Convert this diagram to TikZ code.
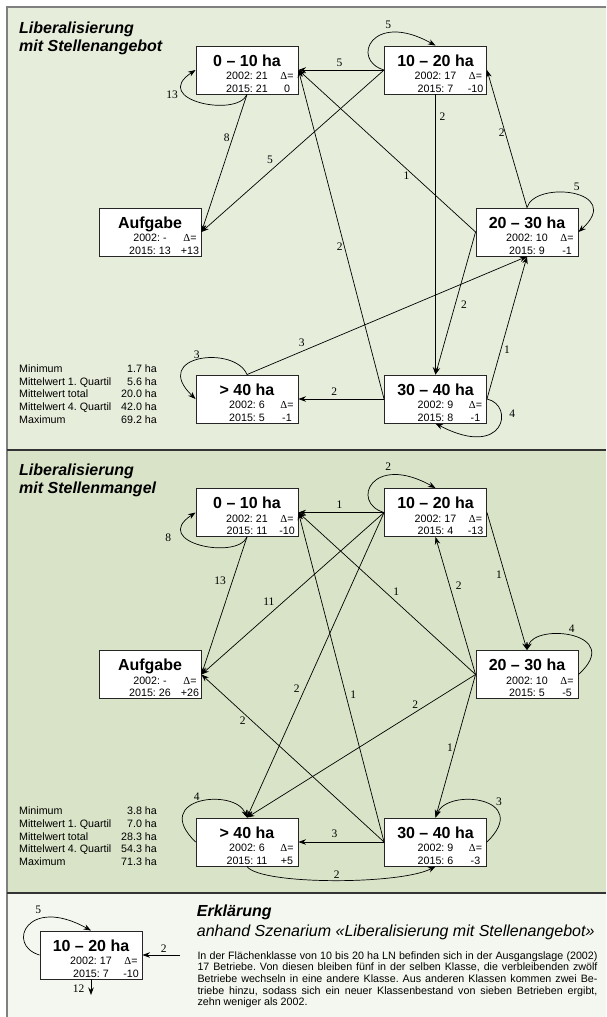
\documentclass[tikz,border=0pt]{standalone}
\usepackage{fontspec}
\setmainfont{Liberation Sans}
\newfontfamily\lserif{Liberation Serif}
\usetikzlibrary{arrows.meta,calc}
\frenchspacing
\definecolor{bgA}{HTML}{E6EDDB}
\definecolor{bgB}{HTML}{D9E3C7}
\definecolor{bgC}{HTML}{F4F7EF}
\definecolor{frameg}{HTML}{808080}
\definecolor{sepc}{HTML}{333333}
\newcommand\kls[7]{%
  \node[kbox] (#1) at (#2,#3) {};
  \node[ktitle] (#1-t) at (#2,#3-4) {#4};
  \node[ksmall] (#1-a) at (#2,#3+9.5) {2002: #5};
  \node[ksmall] (#1-b) at (#2,#3+22) {2015: #6};
  \node[ksmall] (#1-c) at (#2+40,#3+9.5) {{\lserif Δ}=};
  \node[ksmall] (#1-d) at (#2+40,#3+22) {#7};
}
\begin{document}
\begin{tikzpicture}[x=1pt,y=-1pt,
  kbox/.style={draw=black!85, line width=0.9pt, fill=white, minimum width=102pt, minimum height=48pt, inner sep=0pt},
  ktitle/.style={anchor=base, inner sep=0pt, font=\fontsize{16}{18}\selectfont\bfseries},
  ksmall/.style={anchor=base, inner sep=0pt, font=\fontsize{10.7}{12}\selectfont},
  lbl/.style={inner sep=0pt, font=\lserif\fontsize{11.5}{13}\selectfont},
  arr/.style={line width=0.7pt, -{Stealth[length=7.5pt,width=5.5pt]}},
  ptitle/.style={anchor=base west, inner sep=0pt, font=\fontsize{16}{18}\selectfont\bfseries\itshape},
  psub/.style={anchor=base west, inner sep=0pt, font=\fontsize{16}{18}\selectfont\itshape},
  stat/.style={anchor=base west, inner sep=0pt, font=\fontsize{10.7}{12.7}\selectfont},
  para/.style={anchor=base west, inner sep=0pt, font=\fontsize{10.7}{11.7}\selectfont},
]
\useasboundingbox (0,0) rectangle (606,1017);
\fill[white] (0,0) rectangle (606,1017);
\fill[bgA] (7,7) rectangle (606,450);
\fill[bgB] (7,450) rectangle (606,893);
\fill[bgC] (7,893) rectangle (606,1017);
\draw[frameg, line width=2pt] (7,1017) -- (7,7) -- (606,7);
\draw[sepc, line width=1.5pt] (7,450) -- (606,450);
\draw[sepc, line width=1.5pt] (7,893) -- (606,893);

% ---------- panel titles
\node[ptitle] (tA1) at (19,33.3) {Liberalisierung};
\node[ptitle] (tA2) at (19,51) {mit Stellenangebot};
\node[ptitle] (tB1) at (19,475.5) {Liberalisierung};
\node[ptitle] (tB2) at (19,493.3) {mit Stellenmangel};

% ---------- stats
\foreach \n/\v [count=\i] in {Minimum/1.7, Mittelwert 1. Quartil/5.6, Mittelwert total/20.0, Mittelwert 4. Quartil/42.0, Maximum/69.2}
  \node[stat] (sA\i) at (19,372.3+12.7*\i-12.7) {\makebox[137.7pt]{\n\hfill\v\ ha}};
\foreach \n/\v [count=\i] in {Minimum/3.8, Mittelwert 1. Quartil/7.0, Mittelwert total/28.3, Mittelwert 4. Quartil/54.3, Maximum/71.3}
  \node[stat] (sB\i) at (19,814.8+12.7*\i-12.7) {\makebox[137.7pt]{\n\hfill\v\ ha}};

% ---------- top panel nodes
\kls{a0}{247}{70}{0 – 10 ha}{21}{21}{0}
\kls{a10}{435.5}{70}{10 – 20 ha}{17}{7}{-10}
\kls{aA}{150}{232}{Aufgabe}{-}{13}{+13}
\kls{a20}{527}{232}{20 – 30 ha}{10}{9}{-1}
\kls{a40}{247}{399}{> 40 ha}{6}{5}{-1}
\kls{a30}{435.5}{399}{30 – 40 ha}{9}{8}{-1}

% ---------- top panel edges
\draw[arr] (a0.south) .. controls (237,118) and (150,100) .. (a0.west);
\draw[arr] (a10.west) .. controls (350,60) and (372,10) .. (a10.north);
\draw[arr] (a20.north) .. controls (535,180) and (625,190) .. (a20.east);
\draw[arr] (a30.east) .. controls (515,405) and (505,460) .. (a30.south);
\draw[arr] (a40.north) .. controls (235,345) and (150,355) .. (a40.west);
\draw[arr] (a10.west) -- (a0.east);
\draw[arr] (a10.west) -- (aA.east);
\draw[arr] (a0.south) -- (aA.east);
\draw[arr] (a10.south) -- (a30.north);
\draw[arr] (a20.north) -- (a10.east);
\draw[arr] (a20.west) -- (a0.east);
\draw[arr] (a20.west) -- (a30.north);
\draw[arr] (a30.west) -- (a0.east);
\draw[arr] (a30.west) -- (a40.east);
\draw[arr] (a30.east) -- (a20.south);
\draw[arr] (a40.north) -- (a20.south);

\node[lbl] (la1) at (172,94.5) {13};
\node[lbl] (la2) at (226.7,137.5) {8};
\node[lbl] (la3) at (339.5,62.7) {5};
\node[lbl] (la4) at (270,160) {5};
\node[lbl] (la5) at (388.3,25) {5};
\node[lbl] (la6) at (442.5,116.7) {2};
\node[lbl] (la7) at (501.7,132.5) {2};
\node[lbl] (la8) at (576.7,186.7) {5};
\node[lbl] (la9) at (406.5,175.5) {1};
\node[lbl] (la10) at (339.8,246.3) {2};
\node[lbl] (la11) at (464,305) {2};
\node[lbl] (la12) at (507,349.3) {1};
\node[lbl] (la13) at (301.7,342.7) {3};
\node[lbl] (la14) at (196.7,354.3) {3};
\node[lbl] (la15) at (334.3,391.7) {2};
\node[lbl] (la16) at (512.3,414.2) {4};

% ---------- bottom panel nodes
\kls{b0}{247}{512.5}{0 – 10 ha}{21}{11}{-10}
\kls{b10}{435.5}{512.5}{10 – 20 ha}{17}{4}{-13}
\kls{bA}{150}{674.5}{Aufgabe}{-}{26}{+26}
\kls{b20}{527}{674.5}{20 – 30 ha}{10}{5}{-5}
\kls{b40}{247}{842}{> 40 ha}{6}{11}{+5}
\kls{b30}{435.5}{842}{30 – 40 ha}{9}{6}{-3}

% ---------- bottom panel edges
\draw[arr] (b0.south) .. controls (237,560.5) and (150,542.5) .. (b0.west);
\draw[arr] (b10.west) .. controls (350,502.5) and (372,452.5) .. (b10.north);
\draw[arr] (b20.east) .. controls (625,632.5) and (535,622.5) .. (b20.north);
\draw[arr] (b40.west) .. controls (150,797.5) and (235,787.5) .. (b40.north);
\draw[arr] (b30.east) .. controls (532.5,797.5) and (447.5,787.5) .. (b30.north);
\draw[arr] (b40.south) .. controls (260,885) and (400,885) .. (b30.south);
\draw[arr] (b10.west) -- (b0.east);
\draw[arr] (b10.west) -- (bA.east);
\draw[arr] (b10.west) -- (b40.north);
\draw[arr] (b10.east) -- (b20.north);
\draw[arr] (b0.south) -- (bA.east);
\draw[arr] (b20.west) -- (b10.south);
\draw[arr] (b20.west) -- (b0.east);
\draw[arr] (b20.west) -- (b40.north);
\draw[arr] (b20.west) -- (b30.north);
\draw[arr] (b30.west) -- (b0.east);
\draw[arr] (b30.west) -- (bA.east);
\draw[arr] (b30.west) -- (b40.east);

\node[lbl] (lb1) at (168.3,537.3) {8};
\node[lbl] (lb2) at (220,580.8) {13};
\node[lbl] (lb3) at (339.5,504.5) {1};
\node[lbl] (lb4) at (388.3,466.7) {2};
\node[lbl] (lb5) at (268.8,602) {11};
\node[lbl] (lb6) at (296.7,689) {2};
\node[lbl] (lb7) at (499,575) {1};
\node[lbl] (lb8) at (458.8,585.8) {2};
\node[lbl] (lb9) at (571.7,628.3) {4};
\node[lbl] (lb10) at (396.3,591.7) {1};
\node[lbl] (lb11) at (353.3,694.2) {1};
\node[lbl] (lb12) at (242.7,721) {2};
\node[lbl] (lb13) at (415.2,705) {2};
\node[lbl] (lb14) at (450,748) {1};
\node[lbl] (lb15) at (196.7,796.7) {4};
\node[lbl] (lb16) at (499,801.3) {3};
\node[lbl] (lb17) at (334.6,833.3) {3};
\node[lbl] (lb18) at (336.7,875) {2};

% ---------- legend
\kls{l10}{91}{955}{10 – 20 ha}{17}{7}{-10}
\coordinate (lin) at (180,955);
\coordinate (lout) at (91,995);
\draw[arr] (l10.west) .. controls (5.5,945) and (27.5,895) .. (l10.north);
\draw[arr] (lin) -- (l10.east);
\draw[arr] (l10.south) -- (lout);
\node[lbl] (lc1) at (38.3,910) {5};
\node[lbl] (lc2) at (163.8,948.3) {2};
\node[lbl] (lc3) at (78.5,989) {12};

\node[ptitle] (e1) at (196.7,916.7) {Erklärung};
\node[psub] (e2) at (196.7,936) {anhand Szenarium «Liberalisierung mit Stellenangebot»};
\node[para] (p1) at (197.3,959) {\makebox[400pt][s]{In der Flächenklasse von 10 bis 20 ha LN befinden sich in der Ausgangslage (2002)}};
\node[para] (p2) at (197.3,970.7) {\makebox[400pt][s]{17 Betriebe. Von diesen bleiben fünf in der selben Klasse, die verbleibenden zwölf}};
\node[para] (p3) at (197.3,982.3) {\makebox[400pt][s]{Betriebe wechseln in eine andere Klasse. Aus anderen Klassen kommen zwei Be-}};
\node[para] (p4) at (197.3,994) {\makebox[400pt][s]{triebe hinzu, sodass sich ein neuer Klassenbestand von sieben Betrieben ergibt,}};
\node[para] (p5) at (197.3,1005.7) {zehn weniger als 2002.};
\end{tikzpicture}
\end{document}
